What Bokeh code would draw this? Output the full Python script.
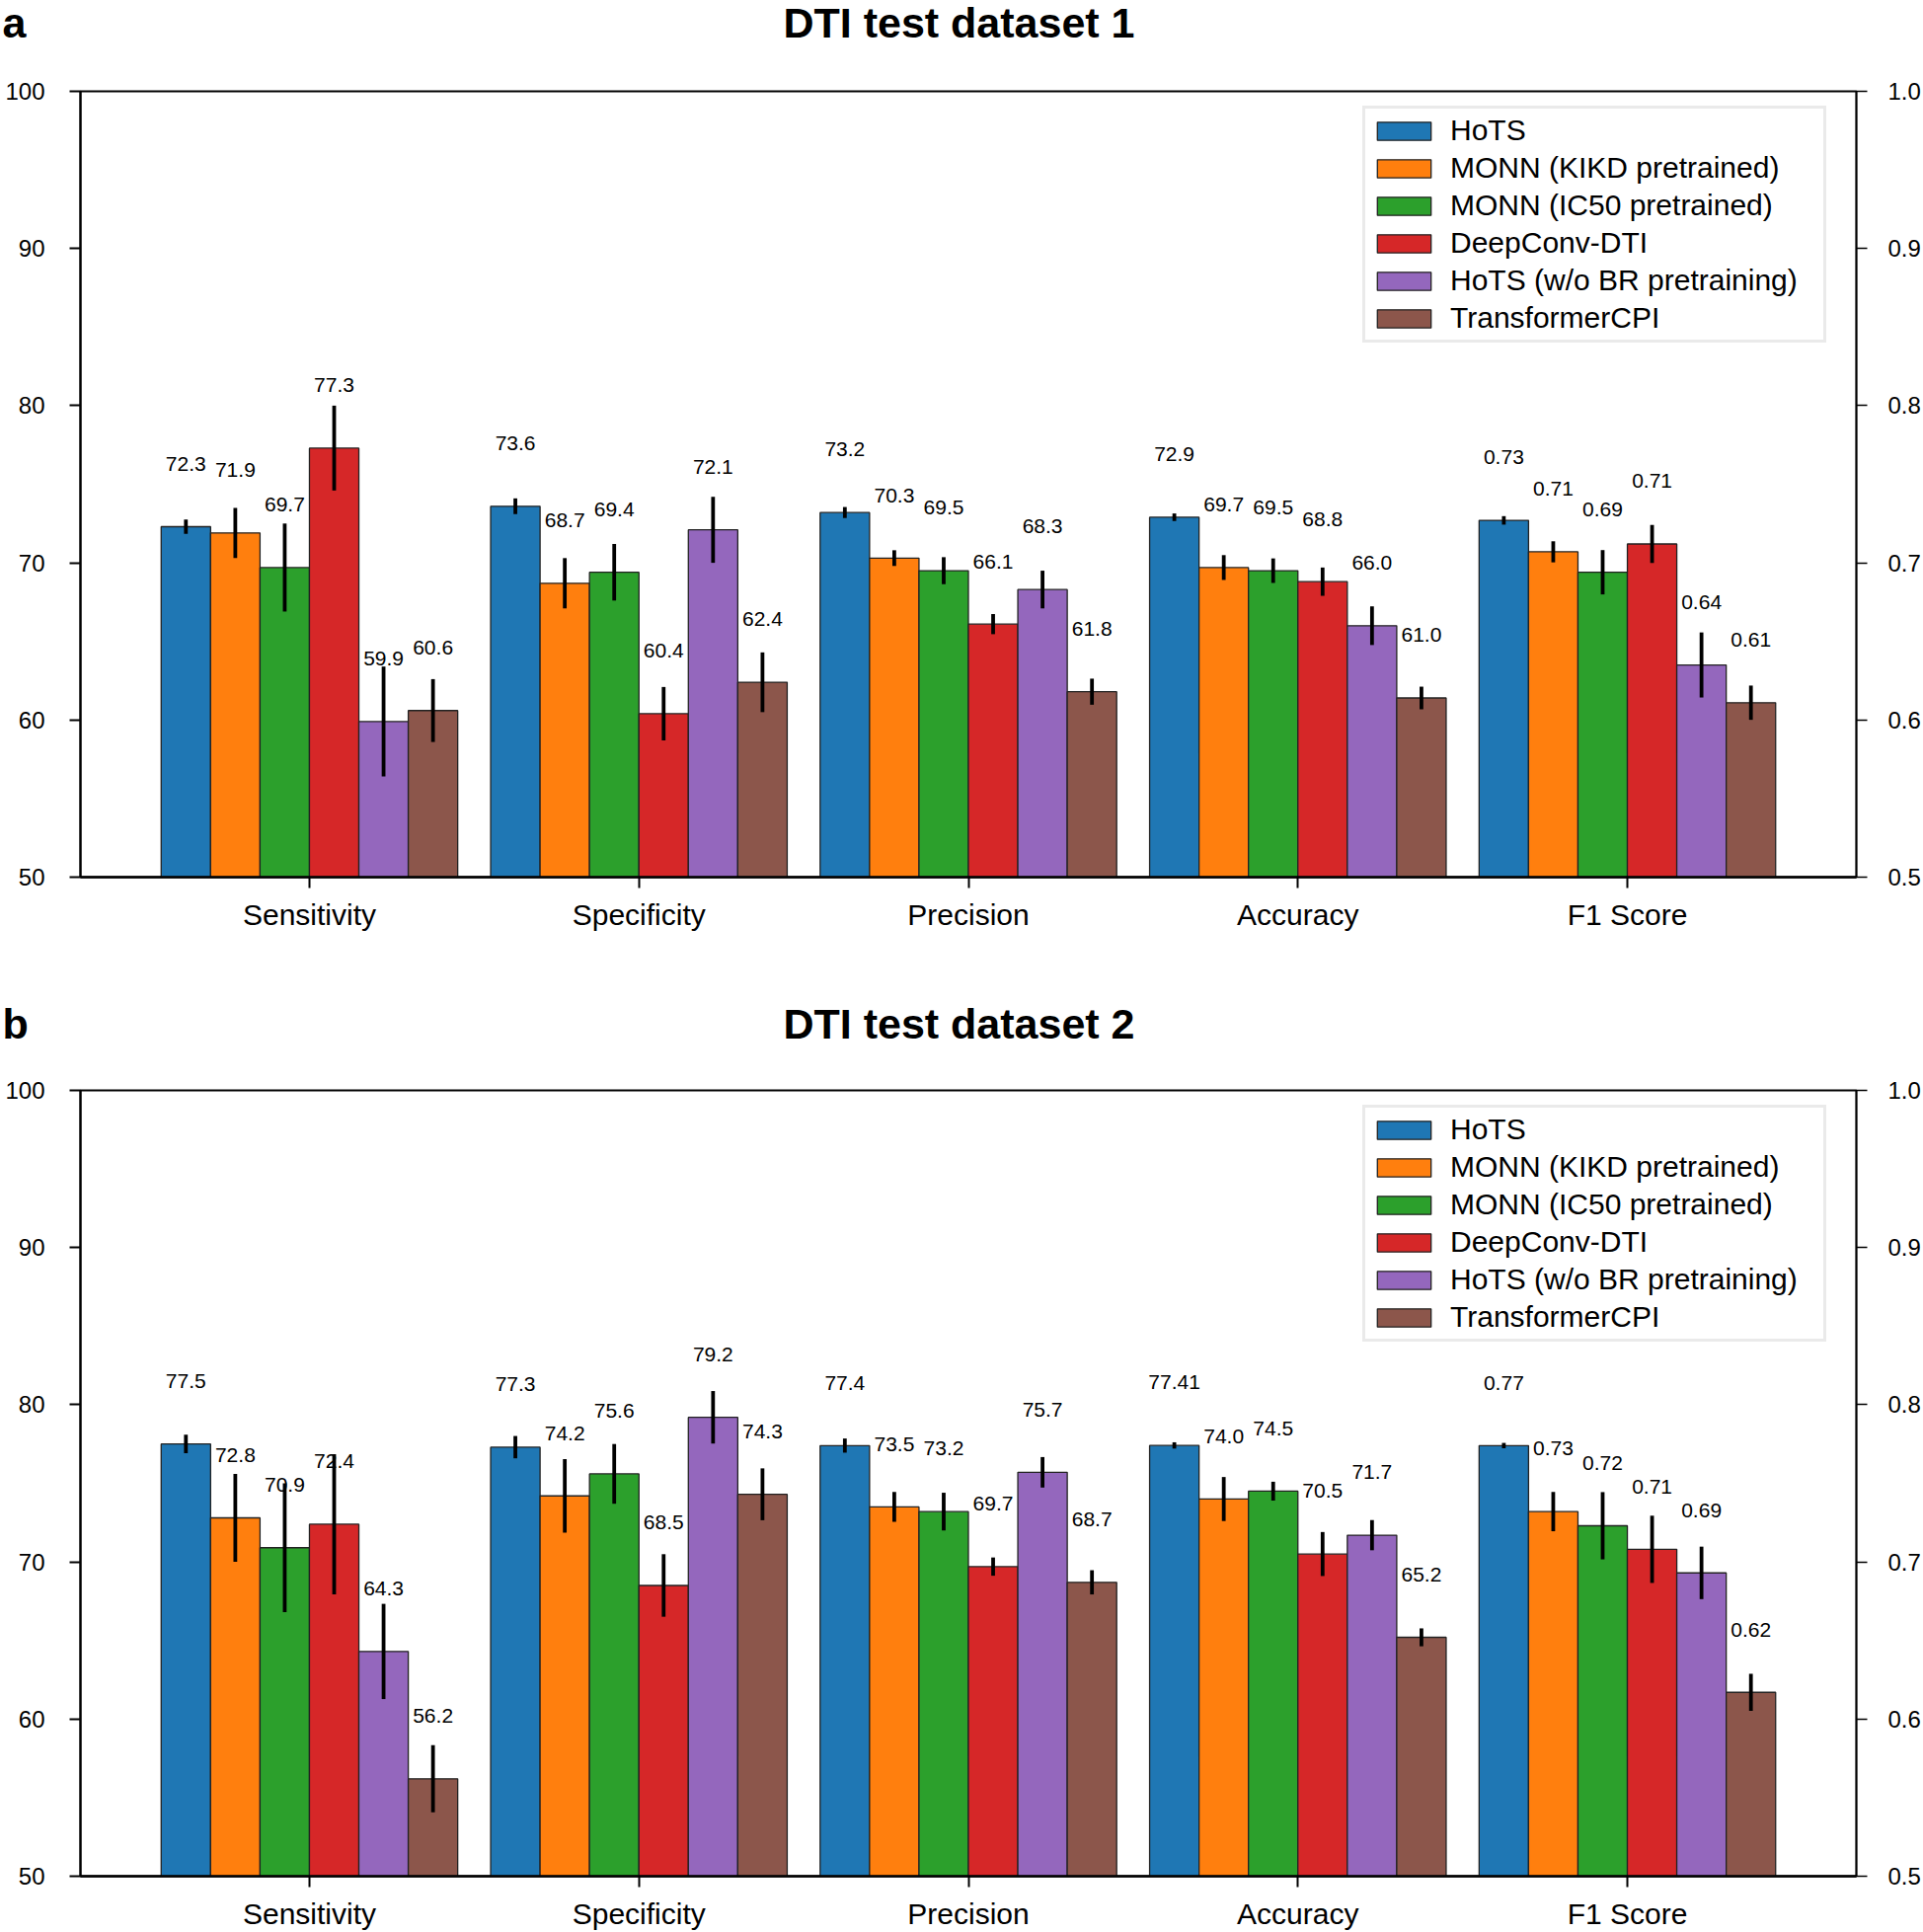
from bokeh.plotting import figure
from bokeh.models import (Range1d, LinearAxis, FixedTicker, PrintfTickFormatter,
                          Legend, LegendItem)
from bokeh.layouts import column
from bokeh.embed import file_html
from bokeh.resources import INLINE
from bokeh.core.properties import value

# ---------------- data ----------------
models = ["HoTS", "MONN (KIKD pretrained)", "MONN (IC50 pretrained)",
          "DeepConv-DTI", "HoTS (w/o BR pretraining)", "TransformerCPI"]
colors = ["#1f77b4", "#ff7f0e", "#2ca02c", "#d62728", "#9467bd", "#8c564b"]
metrics = ["Sensitivity", "Specificity", "Precision", "Accuracy", "F1 Score"]
left_ticks = [50, 60, 70, 80, 90, 100]
right_ticks = [0.5, 0.6, 0.7, 0.8, 0.9, 1.0]

# dataset 1 (percent; F1 in 0-1), model order as `models`
d1_sensitivity = [72.3, 71.9, 69.7, 77.3, 59.9, 60.6]
d1_specificity = [73.6, 68.7, 69.4, 60.4, 72.1, 62.4]
d1_precision = [73.2, 70.3, 69.5, 66.1, 68.3, 61.8]
d1_accuracy = [72.9, 69.7, 69.5, 68.8, 66.0, 61.4]
d1_f1 = [0.727, 0.707, 0.694, 0.712, 0.635, 0.611]
d1_sensitivity_err = [0.45, 1.6, 2.8, 2.7, 3.5, 2.0]
d1_specificity_err = [0.5, 1.6, 1.8, 1.7, 2.1, 1.9]
d1_precision_err = [0.35, 0.5, 0.86, 0.64, 1.2, 0.83]
d1_accuracy_err = [0.24, 0.79, 0.78, 0.9, 1.23, 0.72]
d1_f1_err = [0.0027, 0.0067, 0.0141, 0.0121, 0.0207, 0.0109]
d1_sensitivity_lbl = ["72.3", "71.9", "69.7", "77.3", "59.9", "60.6"]
d1_specificity_lbl = ["73.6", "68.7", "69.4", "60.4", "72.1", "62.4"]
d1_precision_lbl = ["73.2", "70.3", "69.5", "66.1", "68.3", "61.8"]
d1_accuracy_lbl = ["72.9", "69.7", "69.5", "68.8", "66.0", "61.0"]
d1_f1_lbl = ["0.73", "0.71", "0.69", "0.71", "0.64", "0.61"]

# dataset 2
d2_sensitivity = [77.5, 72.8, 70.9, 72.4, 64.3, 56.2]
d2_specificity = [77.3, 74.2, 75.6, 68.5, 79.2, 74.3]
d2_precision = [77.4, 73.5, 73.2, 69.7, 75.7, 68.7]
d2_accuracy = [77.41, 74.0, 74.5, 70.5, 71.7, 65.2]
d2_f1 = [0.774, 0.732, 0.723, 0.708, 0.693, 0.617]
d2_sensitivity_err = [0.59, 2.8, 4.1, 4.46, 3.03, 2.14]
d2_specificity_err = [0.71, 2.34, 1.9, 1.99, 1.67, 1.65]
d2_precision_err = [0.45, 0.95, 1.2, 0.58, 0.97, 0.77]
d2_accuracy_err = [0.2, 1.4, 0.6, 1.4, 0.96, 0.57]
d2_f1_err = [0.0017, 0.0125, 0.0214, 0.0214, 0.0167, 0.0118]
d2_sensitivity_lbl = ["77.5", "72.8", "70.9", "72.4", "64.3", "56.2"]
d2_specificity_lbl = ["77.3", "74.2", "75.6", "68.5", "79.2", "74.3"]
d2_precision_lbl = ["77.4", "73.5", "73.2", "69.7", "75.7", "68.7"]
d2_accuracy_lbl = ["77.41", "74.0", "74.5", "70.5", "71.7", "65.2"]
d2_f1_lbl = ["0.77", "0.73", "0.72", "0.71", "0.69", "0.62"]

# ---------------- styling ----------------
FONT = "Liberation Sans"
BAR_W = 0.15
X0, X1 = -0.695, 4.695
FIG_W = 1948
BL, BR = 81, 68
LABEL_OFF = 4.0


def title_strip(title, letter, height, center_from_top):
    t = figure(width=FIG_W, height=height, x_range=Range1d(0, FIG_W),
               y_range=Range1d(0, height), x_axis_type=None, y_axis_type=None,
               output_backend="svg", toolbar_location=None, min_border=0,
               min_border_left=0, min_border_right=0, min_border_top=0,
               min_border_bottom=0)
    t.grid.visible = False
    t.outline_line_color = None
    t.background_fill_color = "white"
    t.border_fill_color = "white"
    yc = height - center_from_top
    t.text(x=[FIG_W / 2.0 - 3], y=[yc], text=[title], text_font=value(FONT),
           text_font_style="bold", text_font_size="43px", text_align="center",
           text_baseline="middle", text_color="black")
    t.text(x=[2], y=[yc], text=[letter], text_font=value(FONT),
           text_font_style="bold", text_font_size="43px", text_align="left",
           text_baseline="middle", text_color="black")
    # wrapped on its own so the plot-frame alignment of the outer column ignores it
    return column(t, spacing=0)


def style_axis(ax, size, tick_w, line_w, standoff):
    ax.major_label_text_font = FONT
    ax.major_label_text_font_size = size
    ax.major_label_text_color = "black"
    ax.major_tick_out = 11
    ax.major_tick_in = 0
    ax.minor_tick_out = 0
    ax.minor_tick_in = 0
    ax.major_tick_line_width = tick_w
    ax.axis_line_width = line_w
    ax.major_label_standoff = standoff


def make_panel(vals, errs, lbls, height, top, bottom, legend_top_gap):
    frame_h = height - top - bottom
    p = figure(width=FIG_W, height=height, x_range=Range1d(X0, X1),
               y_range=Range1d(50, 100), output_backend="svg",
               toolbar_location=None, min_border_left=BL, min_border_right=BR,
               min_border_top=top, min_border_bottom=bottom)
    p.extra_y_ranges = {"r": Range1d(0.5, 1.0)}
    p.grid.visible = False
    p.outline_line_color = "black"
    p.outline_line_width = 2
    p.background_fill_color = "white"
    p.border_fill_color = "white"

    xa = p.xaxis[0]
    xa.ticker = FixedTicker(ticks=list(range(len(metrics))))
    xa.major_label_overrides = {i: m for i, m in enumerate(metrics)}
    style_axis(xa, "30px", 2, 2.5, 10)

    ya = p.yaxis[0]
    ya.ticker = FixedTicker(ticks=left_ticks)
    ya.formatter = PrintfTickFormatter(format="%d")
    style_axis(ya, "24px", 2, 2, 25)

    ra = LinearAxis(y_range_name="r", ticker=FixedTicker(ticks=right_ticks),
                    formatter=PrintfTickFormatter(format="%.1f"))
    style_axis(ra, "24px", 1.5, 1.5, 21)
    p.add_layout(ra, "right")

    items = []
    n = len(models)
    for i, (mdl, col) in enumerate(zip(models, colors)):
        off = (i - (n - 1) / 2.0) * BAR_W
        xs = [m + off for m in range(4)]
        ys = [vals[m][i] for m in range(4)]
        es = [errs[m][i] for m in range(4)]
        ls = [lbls[m][i] for m in range(4)]
        r = p.vbar(x=xs, top=ys, bottom=0, width=BAR_W, fill_color=col,
                   line_color="#222222", line_width=1.3)
        p.segment(x0=xs, y0=[y - e for y, e in zip(ys, es)],
                  x1=xs, y1=[y + e for y, e in zip(ys, es)],
                  line_color="black", line_width=3.8)
        p.text(x=xs, y=[y + LABEL_OFF for y in ys], text=ls,
               text_font=value(FONT), text_font_size="21px",
               text_align="center", text_baseline="middle", text_color="black")
        # F1 on the right-hand (0-1) scale
        xf = [4 + off]
        yf = [vals[4][i]]
        ef = [errs[4][i]]
        p.vbar(x=xf, top=yf, bottom=0, width=BAR_W, fill_color=col,
               line_color="#222222", line_width=1.3, y_range_name="r")
        p.segment(x0=xf, y0=[yf[0] - ef[0]], x1=xf, y1=[yf[0] + ef[0]],
                  line_color="black", line_width=3.8, y_range_name="r")
        p.text(x=xf, y=[yf[0] + LABEL_OFF / 100.0], text=[lbls[4][i]],
               y_range_name="r", text_font=value(FONT), text_font_size="21px",
               text_align="center", text_baseline="middle", text_color="black")
        items.append(LegendItem(label=mdl, renderers=[r]))

    leg_h = 234
    legend = Legend(items=items, location=(1299, frame_h - legend_top_gap - leg_h),
                    label_text_font=FONT, label_text_font_size="30px",
                    label_text_color="black",
                    glyph_width=68, glyph_height=23, label_standoff=13,
                    spacing=4, padding=5, label_height=33, label_width=373,
                    border_line_color="#d5d5d5", border_line_width=3.5,
                    background_fill_color="white", background_fill_alpha=1.0)
    p.add_layout(legend)
    return p


t1 = title_strip("DTI test dataset 1", "a", height=72, center_from_top=22)
p1 = make_panel([d1_sensitivity, d1_specificity, d1_precision, d1_accuracy, d1_f1],
                [d1_sensitivity_err, d1_specificity_err, d1_precision_err,
                 d1_accuracy_err, d1_f1_err],
                [d1_sensitivity_lbl, d1_specificity_lbl, d1_precision_lbl,
                 d1_accuracy_lbl, d1_f1_lbl],
                height=932, top=20, bottom=116, legend_top_gap=21)
t2 = title_strip("DTI test dataset 2", "b", height=80, center_from_top=32)
p2 = make_panel([d2_sensitivity, d2_specificity, d2_precision, d2_accuracy, d2_f1],
                [d2_sensitivity_err, d2_specificity_err, d2_precision_err,
                 d2_accuracy_err, d2_f1_err],
                [d2_sensitivity_lbl, d2_specificity_lbl, d2_precision_lbl,
                 d2_accuracy_lbl, d2_f1_lbl],
                height=873, top=20, bottom=57, legend_top_gap=21)

layout = column(t1, p1, t2, p2, spacing=0)
open("out.html", "w").write(file_html(layout, INLINE))
